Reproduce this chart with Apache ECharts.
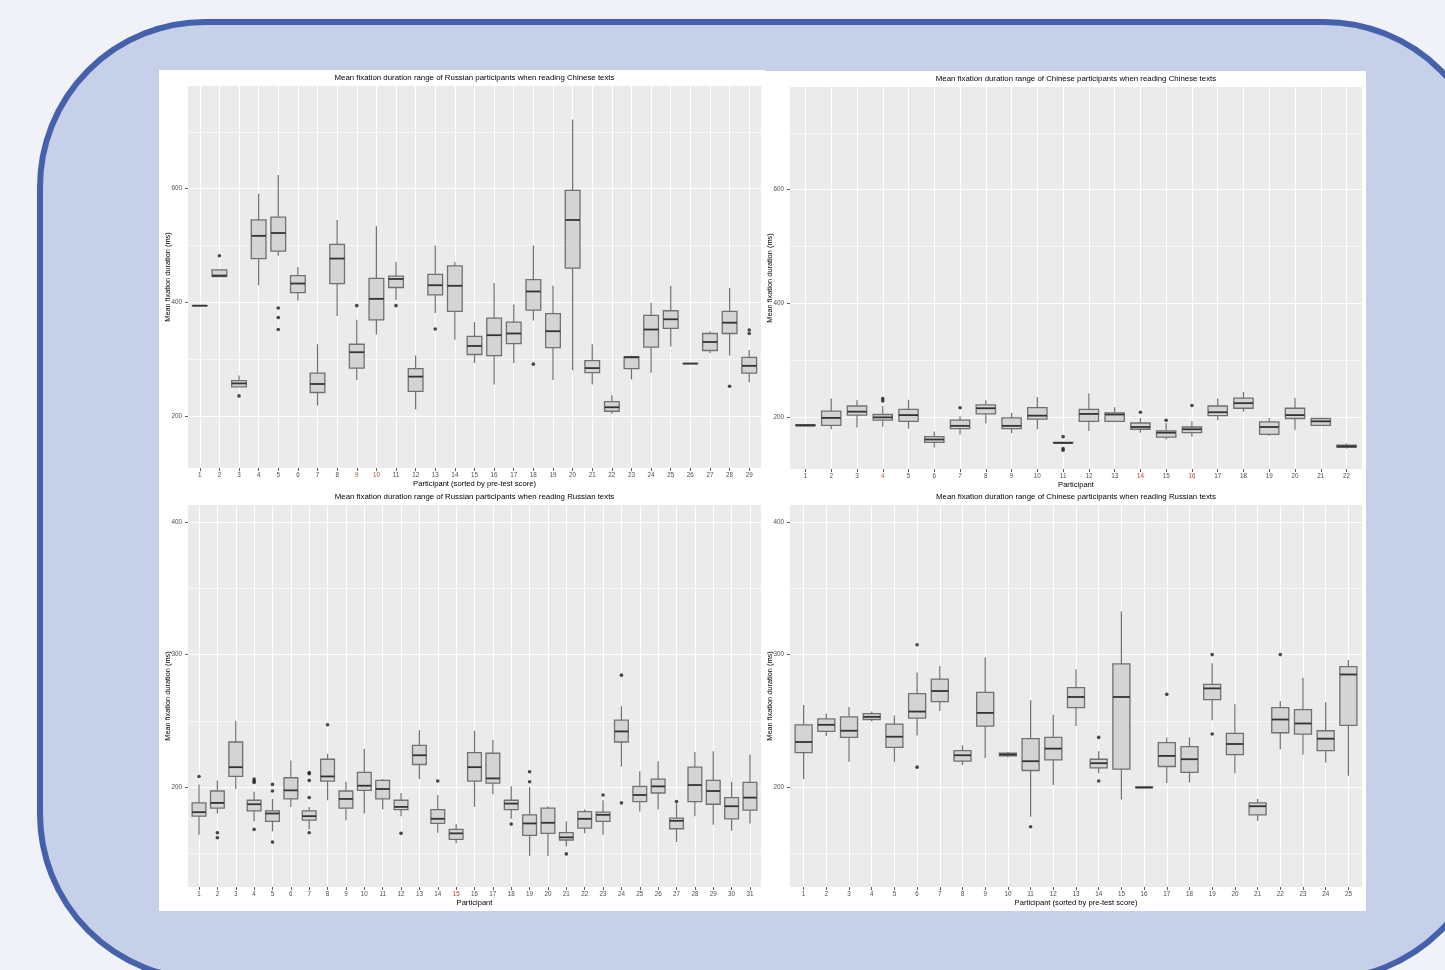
<!DOCTYPE html>
<html>
<head>
<meta charset="utf-8">
<script src="https://cdn.jsdelivr.net/npm/echarts@6.0.0/dist/echarts.min.js"></script>
<style>
html,body{margin:0;padding:0;background:#f0f2f7;}
#c{width:1445px;height:970px;}
</style>
</head>
<body>
<div id="c"></div>
<script>
// ---------------- DATA ----------------
// Box data: [lower whisker, Q1, median, Q3, upper whisker]
const catsRC = ['1','2','3','4','5','6','7','8','9','10','11','12','13','14','15','16','17','18','19','20','21','22','23','24','25','26','27','28','29'];
const boxesRC = [
  [394,394,394,394,394],[445,445,447,457,457],[251,251,257,262,271],[430,477,517,545,591],
  [482,490,522,550,624],[403,417,433,447,462],[218,241,256,275,326],[376,433,477,502,545],
  [263,284,312,326,369],[343,369,406,442,534],[404,426,441,446,471],[211,243,269,283,306],
  [381,413,430,449,500],[334,384,429,464,471],[293,308,323,340,365],[255,306,342,372,434],
  [293,327,345,365,396],[368,386,419,440,500],[263,320,349,380,429],[280,460,545,597,722],
  [255,276,284,297,326],[203,208,215,225,236],[264,283,303,304,306],[276,321,352,377,399],
  [322,354,370,385,429],[292,292,292,292,292],[310,315,330,345,349],[306,345,364,384,425],
  [259,275,288,303,316]
];
const outliersRC = [['2',482],['3',235],['5',390],['5',373],['5',352],['9',394],['11',394],['13',353],['18',291],['28',252],['29',351],['29',345]];

const catsCC = ['1','2','3','4','5','6','7','8','9','10','11','12','13','14','15','16','17','18','19','20','21','22'];
const boxesCC = [
  [184,184,185,186,186],[178,185,198,210,232],[181,203,209,219,229],[183,194,199,204,219],
  [179,192,203,213,230],[146,155,160,165,174],[169,179,184,194,201],[188,205,215,221,229],
  [171,179,184,198,207],[178,196,202,216,235],[153,154,154,155,156],[175,192,205,213,241],
  [192,192,204,207,217],[172,178,182,189,198],[160,164,172,175,189],[165,172,178,182,192],
  [194,202,208,219,232],[209,215,224,233,244],[166,169,182,191,198],[177,197,203,215,233],
  [185,185,192,197,198],[144,146,148,150,153]
];
const outliersCC = [['4',232],['4',228],['7',216],['11',165],['11',144],['11',141],['14',208],['15',194],['16',220]];

const catsRR = ['1','2','3','4','5','6','7','8','9','10','11','12','13','14','15','16','17','18','19','20','21','22','23','24','25','26','27','28','29','30','31'];
const boxesRR = [
  [164,178,181,188,202],[180,184,188,197,205],[198.5,208,215,234,250],[174,182,187,190,196.5],
  [166.5,174,180,182,191],[185,191,197.5,207,220],[168,175,178,182,185],[190,204.5,208,221,225],
  [175,184,191,197,204],[180,197.5,201,211,229],[183,191,198.5,205,206],[178,183,185,190,195.5],
  [206,217,224,231.5,243],[165.5,172.5,176,183,194],[157.5,160.5,165,168,172],[185,204.5,215,226,242.5],
  [194.5,203,206.5,225.5,235.5],[176,183,187.5,190,200.5],[148,163.5,172.5,179,200],[148,165,173,184,185.5],
  [155,160,162,165.5,174],[165,169,176,181.5,183],[164,174,179,181,190],[215.5,234,242,250.5,261],
  [181.5,189,194,200.5,212],[183,195.5,200.5,206,219.5],[158.5,168.5,174.5,176.5,187.5],[178,189,201.5,215,226.5],
  [171.5,187,197,205,227],[167,176,185.5,192,204],[172.5,182.5,192,203.5,224.5]
];
const outliersRR = [['1',208],['2',165.5],['2',161.7],['4',206],['4',204.5],['4',203.5],['4',168],['5',202],['5',197],['5',158.4],
  ['7',211],['7',210],['7',205],['7',192],['7',165.5],['8',247],['12',165],['14',204.5],['18',172],['19',211.5],['19',204],
  ['21',149.5],['23',194],['24',284.5],['24',188],['27',189]];

const catsCR = ['1','2','3','4','5','6','7','8','9','10','11','12','13','14','15','16','17','18','19','20','21','22','23','24','25'];
const boxesCR = [
  [206,226,234,247,262],[238.5,242,247,251.5,255.5],[219,237.5,242.5,253,260.5],[249.5,251,253,255.5,257],
  [219,230,238,247.5,254],[239,252,257,270.5,286.5],[257.5,264.5,272.5,281.5,291.5],[216.5,219.5,224,227.5,231.5],
  [222,246,256,271.5,298],[222.5,223.5,224.5,225.5,226.5],[177.5,212.5,219.5,236.5,265.5],[201.5,220.5,229,237.5,254.5],
  [246,260,268,275,289],[210.5,214.5,218,221,227],[190.5,213.5,268,293,332.5],[199.5,199.5,199.7,200,200],
  [203,215.5,223.5,233.5,237.5],[203.5,211,221,230.5,237.5],[250.5,266,274.5,277.5,293.5],[210.5,224.5,232.5,240.5,262.5],
  [174.5,179,185.5,188,191],[228.5,241,251,260,265],[224.5,240,248,258.5,282.5],[218.5,227.5,236.5,242.5,264],
  [208.5,246.5,285,291,296]
];
const outliersCR = [['6',307.5],['6',215],['11',170],['14',237.5],['14',204.5],['17',270],['19',300],['19',240],['22',300]];

const yMajorTop = [200,400,600];
const yMinorTop = [300,500,700];
const yMajorBottom = [200,300,400];
const yMinorBottom = [150,250,350];

const titleRC = 'Mean fixation duration range of Russian participants when reading Chinese texts';
const titleCC = 'Mean fixation duration range of Chinese participants when reading Chinese texts';
const titleRR = 'Mean fixation duration range of Russian participants when reading Russian texts';
const titleCR = 'Mean fixation duration range of Chinese participants when reading Russian texts';
const xNameSorted = 'Participant (sorted by pre-test score)';
const xNamePlain = 'Participant';
const yName = 'Mean fixation duration (ms)';

// ---------------- LAYOUT ----------------
const FONT = '"Liberation Sans", Arial, sans-serif';
const panels = [
  {cats:catsRC, boxes:boxesRC, out:outliersRC, plot:[188,86,573,382], yr:[108,781], major:yMajorTop, minor:yMinorTop,
   title:titleRC, tx:474.5, ty:77.5, xName:xNameSorted, hot:{'9':'#a0522d','10':'#a0522d'}},
  {cats:catsCC, boxes:boxesCC, out:outliersCC, plot:[790,87,572,382], yr:[108,781], major:yMajorTop, minor:yMinorTop,
   title:titleCC, tx:1076, ty:78.5, xName:xNamePlain, hot:{'4':'#c0602a','14':'#c03a2a','16':'#c03a2a'}},
  {cats:catsRR, boxes:boxesRR, out:outliersRR, plot:[188,505,573,382], yr:[124.5,413], major:yMajorBottom, minor:yMinorBottom,
   title:titleRR, tx:474.5, ty:496.5, xName:xNamePlain, hot:{'15':'#c03a2a'}},
  {cats:catsCR, boxes:boxesCR, out:outliersCR, plot:[790,505,572,382], yr:[124.5,413], major:yMajorBottom, minor:yMinorBottom,
   title:titleCR, tx:1076, ty:496.5, xName:xNameSorted, hot:{}}
];

function boxItem(params, api) {
  const i = api.value(0);
  const pLo = api.coord([i, api.value(1)]);
  const pQ1 = api.coord([i, api.value(2)]);
  const pMd = api.coord([i, api.value(3)]);
  const pQ3 = api.coord([i, api.value(4)]);
  const pHi = api.coord([i, api.value(5)]);
  const w = api.size([1, 0])[0] * 0.75;
  const cx = pMd[0];
  const ln = (x1,y1,x2,y2,stroke,lw) => ({type:'line', shape:{x1,y1,x2,y2}, style:{stroke, lineWidth:lw}});
  return {type:'group', children:[
    ln(cx,pHi[1],cx,pQ3[1],'#707070',1.2),
    ln(cx,pQ1[1],cx,pLo[1],'#707070',1.2),
    {type:'rect', shape:{x:cx-w/2, y:pQ3[1], width:w, height:Math.max(pQ1[1]-pQ3[1],0.01)},
     style:{fill:'#d4d4d4', stroke:'#707070', lineWidth:1.3}},
    ln(cx-w/2,pMd[1],cx+w/2,pMd[1],'#333333',1.8)
  ]};
}

const grid = [], xAxis = [], yAxis = [], series = [];
const graphicEls = [
  {type:'rect', z:-30, shape:{x:0,y:0,width:1445,height:970}, style:{fill:'#f0f2f7'}},
  {type:'rect', z:-25, shape:{x:40,y:22,width:1449,height:957,r:165}, style:{fill:'#c6d0e8', stroke:'#4561ab', lineWidth:6}},
  {type:'rect', z:-20, shape:{x:159,y:70,width:606,height:420}, style:{fill:'#ffffff'}},
  {type:'rect', z:-20, shape:{x:765,y:71,width:601,height:419}, style:{fill:'#ffffff'}},
  {type:'rect', z:-20, shape:{x:159,y:490,width:603,height:421}, style:{fill:'#ffffff'}},
  {type:'rect', z:-20, shape:{x:762,y:490,width:604,height:421}, style:{fill:'#ffffff'}}
];

panels.forEach((p, k) => {
  const [L, T, W, H] = p.plot;
  const n = p.cats.length;
  const u = W / (n + 0.2);
  const inset = 0.6 * u;
  grid.push({left:L, top:T, width:W, height:H, show:true, backgroundColor:'#ebebeb', borderWidth:0, outerBoundsMode:'none'});
  grid.push({left:L+inset, top:T, width:W-2*inset, height:H, show:false, outerBoundsMode:'none'});
  xAxis.push({gridIndex:2*k, type:'value', show:false, min:0, max:1});
  const hot = p.hot;
  const rich = {};
  Object.keys(hot).forEach((key, j) => { rich['h'+j] = {color:hot[key], fontSize:6.3, fontFamily:FONT}; });
  xAxis.push({
    gridIndex:2*k+1, type:'category', data:p.cats, boundaryGap:false,
    name:p.xName, nameLocation:'middle', nameGap:12,
    nameTextStyle:{color:'#000', fontSize:7.6, fontFamily:FONT},
    axisLine:{show:false},
    axisTick:{show:true, length:3, interval:0, lineStyle:{color:'#333', width:0.8}},
    axisLabel:{interval:0, margin:4, color:'#4d4d4d', fontSize:6.3, fontFamily:FONT, rich:rich,
      formatter:(v) => { const ks = Object.keys(hot); const j = ks.indexOf(v); return j >= 0 ? '{h'+j+'|'+v+'}' : v; }},
    splitLine:{show:true, interval:0, lineStyle:{color:'#ffffff', width:1.1}}
  });
  yAxis.push({
    gridIndex:2*k, type:'value', min:p.yr[0], max:p.yr[1],
    name:yName, nameLocation:'middle', nameGap:17, nameMoveOverlap:false,
    nameTextStyle:{color:'#000', fontSize:7.4, fontFamily:FONT},
    axisLine:{show:false},
    axisTick:{show:true, length:3, customValues:p.major, lineStyle:{color:'#333', width:0.8}},
    axisLabel:{margin:6, color:'#4d4d4d', fontSize:6.3, fontFamily:FONT, customValues:p.major},
    splitLine:{show:true, lineStyle:{color:'#ffffff', width:1.1}}
  });
  yAxis.push({
    gridIndex:2*k, type:'value', min:p.yr[0], max:p.yr[1],
    axisLine:{show:false},
    axisTick:{show:false, customValues:p.minor},
    axisLabel:{show:false, customValues:p.minor},
    splitLine:{show:true, lineStyle:{color:'#ffffff', width:0.55}}
  });
  yAxis.push({gridIndex:2*k+1, type:'value', min:p.yr[0], max:p.yr[1], show:false, splitLine:{show:false}});
  series.push({
    type:'custom', xAxisIndex:2*k+1, yAxisIndex:3*k+2, clip:false,
    renderItem:boxItem, encode:{x:0, y:[1,2,3,4,5]},
    data:p.boxes.map((b, i) => [i, b[0], b[1], b[2], b[3], b[4]])
  });
  series.push({
    type:'scatter', xAxisIndex:2*k+1, yAxisIndex:3*k+2,
    symbol:'circle', symbolSize:3.6, itemStyle:{color:'#1a1a1a'},
    data:p.out, z:3
  });
  graphicEls.push({type:'text', z:5, x:p.tx, y:p.ty,
    style:{text:p.title, fill:'#000', font:'7.85px ' + FONT, textAlign:'center', textVerticalAlign:'middle'}});
});

const chart = echarts.init(document.getElementById('c'), null, {renderer:'canvas'});
chart.setOption({
  animation:false,
  backgroundColor:'#f0f2f7',
  graphic:{elements:graphicEls},
  grid, xAxis, yAxis, series
});
</script>
</body>
</html>
